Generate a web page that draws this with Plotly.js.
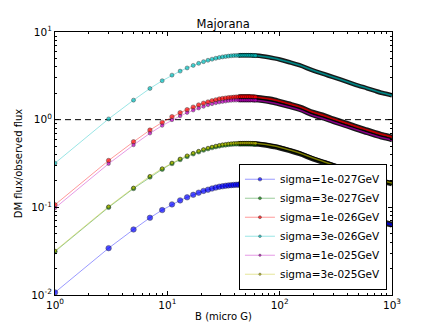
<!DOCTYPE html>
<html lang="en">
<head>
  <meta charset="UTF-8">
  <title>Majorana</title>
  <script src="https://cdn.plot.ly/plotly-3.0.1.min.js"></script>
  <style>
    body { margin: 0; background: #ffffff; }
    #chart { width: 436px; height: 329px; }
  </style>
</head>
<body>
  <div id="chart"></div>

  <script>
    // magnetic field B (micro G)
    const bField = [1, 3, 5, 7, 9, 11, 13, 15, 17, 19, 21, 23, 25, 27, 29, 31, 33, 35, 37, 39,
      41, 43, 45, 47, 49, 51, 53, 55, 57, 59, 61,
      70, 80, 90, 100, 120, 150, 200, 250, 300, 400, 500, 600, 700, 800, 900, 1000];

    const seriesNames = ['sigma=1e-027GeV', 'sigma=3e-027GeV', 'sigma=1e-026GeV',
      'sigma=3e-026GeV', 'sigma=1e-025GeV', 'sigma=3e-025GeV'];

    // DM flux / observed flux
    const flux1e27 = [0.0107, 0.0342, 0.0559, 0.0760, 0.0931, 0.108, 0.120, 0.130, 0.139, 0.147,
      0.154, 0.159, 0.164, 0.168, 0.172, 0.174, 0.176, 0.178, 0.179, 0.180,
      0.181, 0.181, 0.182, 0.182, 0.182, 0.182, 0.182, 0.182, 0.181, 0.181, 0.180,
      0.177, 0.173, 0.168, 0.162, 0.152, 0.140, 0.121, 0.111, 0.102, 0.0905, 0.0821, 0.0764, 0.0717, 0.0680, 0.0657, 0.0633];
    const flux3e27 = [0.0313, 0.100, 0.164, 0.222, 0.272, 0.316, 0.351, 0.381, 0.408, 0.430,
      0.450, 0.466, 0.480, 0.492, 0.502, 0.510, 0.515, 0.520, 0.524, 0.527,
      0.529, 0.530, 0.531, 0.532, 0.532, 0.532, 0.532, 0.531, 0.530, 0.529, 0.527,
      0.517, 0.505, 0.490, 0.475, 0.446, 0.410, 0.355, 0.323, 0.299, 0.265, 0.240, 0.223, 0.210, 0.199, 0.192, 0.185];
    const flux1e26 = [0.107, 0.342, 0.559, 0.760, 0.931, 1.08, 1.20, 1.30, 1.39, 1.47,
      1.54, 1.59, 1.64, 1.68, 1.72, 1.74, 1.76, 1.78, 1.79, 1.80,
      1.81, 1.81, 1.82, 1.82, 1.82, 1.82, 1.82, 1.82, 1.81, 1.81, 1.80,
      1.77, 1.73, 1.68, 1.62, 1.52, 1.40, 1.21, 1.11, 1.02, 0.905, 0.821, 0.764, 0.717, 0.680, 0.657, 0.633];
    const flux3e26 = [0.319, 1.02, 1.67, 2.27, 2.78, 3.22, 3.58, 3.89, 4.16, 4.39,
      4.59, 4.76, 4.90, 5.02, 5.12, 5.20, 5.26, 5.31, 5.35, 5.38,
      5.40, 5.41, 5.42, 5.43, 5.43, 5.43, 5.43, 5.42, 5.41, 5.40, 5.38,
      5.28, 5.15, 5.00, 4.85, 4.55, 4.18, 3.62, 3.30, 3.05, 2.70, 2.45, 2.28, 2.14, 2.03, 1.96, 1.89];
    const flux1e25 = [0.0983, 0.314, 0.514, 0.699, 0.856, 0.992, 1.10, 1.20, 1.28, 1.35,
      1.41, 1.47, 1.51, 1.55, 1.58, 1.60, 1.62, 1.64, 1.65, 1.66,
      1.66, 1.67, 1.67, 1.67, 1.67, 1.67, 1.67, 1.67, 1.67, 1.66, 1.66,
      1.63, 1.59, 1.54, 1.49, 1.40, 1.29, 1.11, 1.02, 0.939, 0.832, 0.755, 0.702, 0.659, 0.625, 0.604, 0.582];
    const flux3e25 = [0.0319, 0.102, 0.167, 0.227, 0.278, 0.322, 0.358, 0.389, 0.416, 0.439,
      0.459, 0.476, 0.490, 0.502, 0.512, 0.520, 0.526, 0.531, 0.535, 0.538,
      0.540, 0.541, 0.542, 0.543, 0.543, 0.543, 0.543, 0.542, 0.541, 0.540, 0.538,
      0.528, 0.515, 0.500, 0.485, 0.455, 0.418, 0.362, 0.330, 0.305, 0.270, 0.245, 0.228, 0.214, 0.203, 0.196, 0.189];

    const xTicks = [1, 10, 100, 1000];
    const xTickText = ['10<sup>0</sup>', '10<sup>1</sup>', '10<sup>2</sup>', '10<sup>3</sup>'];
    const yTicks = [0.01, 0.1, 1, 10];
    const yTickText = ['10<sup>-2</sup>', '10<sup>-1</sup>', '10<sup>0</sup>', '10<sup>1</sup>'];

    const allFlux = [flux1e27, flux3e27, flux1e26, flux3e26, flux1e25, flux3e25];
    const colors = ['#0000ff', '#008000', '#ff0000', '#00bfbf', '#bf00bf', '#bfbf00'];
    const lineColors = ['rgba(0,0,255,0.4)', 'rgba(0,128,0,0.4)', 'rgba(255,0,0,0.4)',
      'rgba(0,191,191,0.4)', 'rgba(191,0,191,0.4)', 'rgba(191,191,0,0.4)'];
    // dark cores of the piled-up dots
    const bandColors = ['#0000b0', '#003800', '#a00000', '#006a6a', '#6a006a', '#5a5a00'];
    const markerSizes = [5.5, 4.5, 4.5, 4, 3.5, 3.5];

    // past this B the dots pile up into a solid band
    const sparseMax = 61;
    const bandStart = 43;

    const traces = [];
    allFlux.forEach((ys, i) => {
      const bx = bField.filter(b => b >= bandStart);
      const by = ys.filter((v, k) => bField[k] >= bandStart);
      traces.push({
        x: bx, y: by, type: 'scatter', mode: 'lines', showlegend: false, hoverinfo: 'skip',
        line: { color: 'rgba(0,0,0,0.9)', width: markerSizes[i] + 0.5, shape: 'spline' }
      });
      traces.push({
        x: bx, y: by, type: 'scatter', mode: 'lines', showlegend: false, hoverinfo: 'skip',
        line: { color: bandColors[i], width: markerSizes[i] * 0.45, shape: 'spline' }
      });
      traces.push({
        x: bField, y: ys, type: 'scatter', mode: 'lines+markers', name: seriesNames[i],
        line: { color: lineColors[i], width: 1 },
        marker: {
          color: colors[i],
          size: bField.map(b => b <= sparseMax ? markerSizes[i] : 0),
          line: { color: '#000000', width: 0.5 }
        }
      });
    });

    const axisCommon = {
      type: 'log',
      showgrid: false,
      zeroline: false,
      showline: true,
      linecolor: '#000000',
      linewidth: 1,
      mirror: 'allticks',
      ticks: 'inside',
      ticklen: 4,
      tickcolor: '#000000',
      tickmode: 'array',
      tickfont: { family: 'DejaVu Sans', size: 10.5, color: '#000000' },
      minor: { ticks: 'inside', ticklen: 2, tickcolor: '#000000', dtick: 'D1' }
    };

    const layout = {
      width: 436,
      height: 329,
      margin: { l: 55, r: 44, t: 32, b: 34 },
      paper_bgcolor: '#ffffff',
      plot_bgcolor: '#ffffff',
      font: { family: 'DejaVu Sans', size: 10, color: '#000000' },
      title: { text: 'Majorana', x: 0.512, xanchor: 'center', y: 0.915, yanchor: 'bottom', font: { size: 11.5 } },
      xaxis: Object.assign({}, axisCommon, {
        range: [0, 3],
        tickvals: xTicks, ticktext: xTickText,
        title: { text: 'B (micro G)', font: { size: 10 }, standoff: 3 }
      }),
      yaxis: Object.assign({}, axisCommon, {
        range: [-2, 1],
        tickvals: yTicks, ticktext: yTickText,
        title: { text: 'DM flux/observed flux', font: { size: 10 }, standoff: 6 }
      }),
      shapes: [{
        type: 'line', xref: 'paper', x0: 0, x1: 1, yref: 'y', y0: 1, y1: 1,
        line: { color: '#000000', width: 1, dash: '6px,4px' }, layer: 'below'
      }],
      legend: {
        x: 0.985, y: 0.02, xanchor: 'right', yanchor: 'bottom',
        bgcolor: '#ffffff', bordercolor: '#000000', borderwidth: 1,
        font: { size: 10.5 }, tracegroupgap: 0, itemwidth: 30
      },
      showlegend: true
    };

    Plotly.newPlot('chart', traces, layout, { displayModeBar: false, staticPlot: true });
  </script>
</body>
</html>
